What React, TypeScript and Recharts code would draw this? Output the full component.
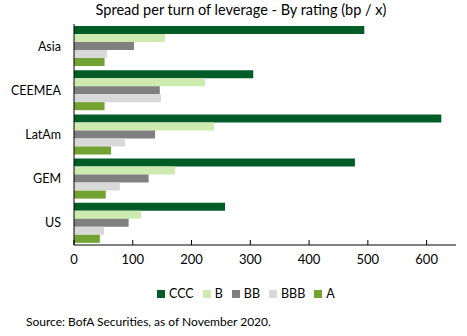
import React from "react";
import { BarChart, Bar, XAxis, YAxis } from "recharts";

const regions = ["Asia", "CEEMEA", "LatAm", "GEM", "US"];
const ratings = ["CCC", "B", "BB", "BBB", "A"];
const ratingColors = ["#025C28", "#CDEBB0", "#808080", "#D9D9D9", "#72A232"];
const cccValues = [494, 305, 625, 478, 257];
const bValues = [155, 223, 238, 172, 114];
const bbValues = [102, 146, 138, 127, 93];
const bbbValues = [56, 148, 87, 78, 51];
const aValues = [52, 52, 63, 54, 44];
const xTicks = [0, 100, 200, 300, 400, 500, 600];
const xMax = 650;
const title = "Spread per turn of leverage - By rating (bp / x)";
const source = "Source: BofA Securities, as of November 2020.";

const seriesValues = [cccValues, bValues, bbValues, bbbValues, aValues];
const data = regions.map((r, i) => {
  const row: Record<string, string | number> = { region: r };
  ratings.forEach((k, j) => {
    row[k] = seriesValues[j][i];
  });
  return row;
});

const FONT = "Lato, 'Open Sans', sans-serif";

const XTick = (props: any) => {
  const { x, y, payload } = props;
  const axisY = y - 8;
  return (
    <g>
      <line x1={x} x2={x} y1={axisY - 5} y2={axisY} stroke="#000" strokeWidth={1} />
      <text x={x} y={axisY + 19} textAnchor="middle" fontSize={13} fill="#000" fontFamily={FONT}>
        {payload.value}
      </text>
    </g>
  );
};

export default function App() {
  return (
    <div
      style={{
        position: "fixed",
        left: 0,
        top: 0,
        width: 467,
        height: 336,
        background: "#fff",
        fontFamily: FONT,
        overflow: "hidden",
      }}
    >
      <div
        style={{
          position: "absolute",
          left: 0,
          width: 482,
          top: 1,
          textAlign: "center",
          fontSize: 14.5,
          color: "#000",
        }}
      >
        {title}
      </div>
      <div style={{ position: "absolute", left: 0, top: 0 }}>
        <BarChart
          width={467}
          height={336}
          data={data}
          layout="vertical"
          margin={{ top: 24, right: 11, bottom: 61, left: 14 }}
          barCategoryGap={2}
          barGap={0}
        >
          <XAxis
            type="number"
            domain={[0, xMax]}
            ticks={xTicks}
            allowDataOverflow
            height={30}
            axisLine={{ stroke: "#000", strokeWidth: 1 }}
            tickLine={false}
            tick={<XTick />}
          />
          <YAxis
            type="category"
            dataKey="region"
            width={60}
            axisLine={{ stroke: "#000", strokeWidth: 1 }}
            tickLine={false}
            tickMargin={7}
            tick={{ fontSize: 12.5, fill: "#000", fontFamily: FONT }}
          />
          {ratings.map((k, j) => (
            <Bar key={k} dataKey={k} fill={ratingColors[j]} isAnimationActive={false} />
          ))}
        </BarChart>
      </div>
      <div
        style={{
          position: "absolute",
          top: 286,
          left: 157,
          display: "flex",
          fontSize: 12.5,
          color: "#000",
        }}
      >
        {ratings.map((k, j) => (
          <div key={k} style={{ display: "flex", alignItems: "center", marginRight: 9 }}>
            <span
              style={{
                display: "inline-block",
                width: 8,
                height: 8,
                background: ratingColors[j],
                marginRight: 4,
              }}
            />
            <span>{k}</span>
          </div>
        ))}
      </div>
      <div
        style={{
          position: "absolute",
          left: 26,
          top: 314,
          fontSize: 12,
          color: "#000",
        }}
      >
        {source}
      </div>
    </div>
  );
}
